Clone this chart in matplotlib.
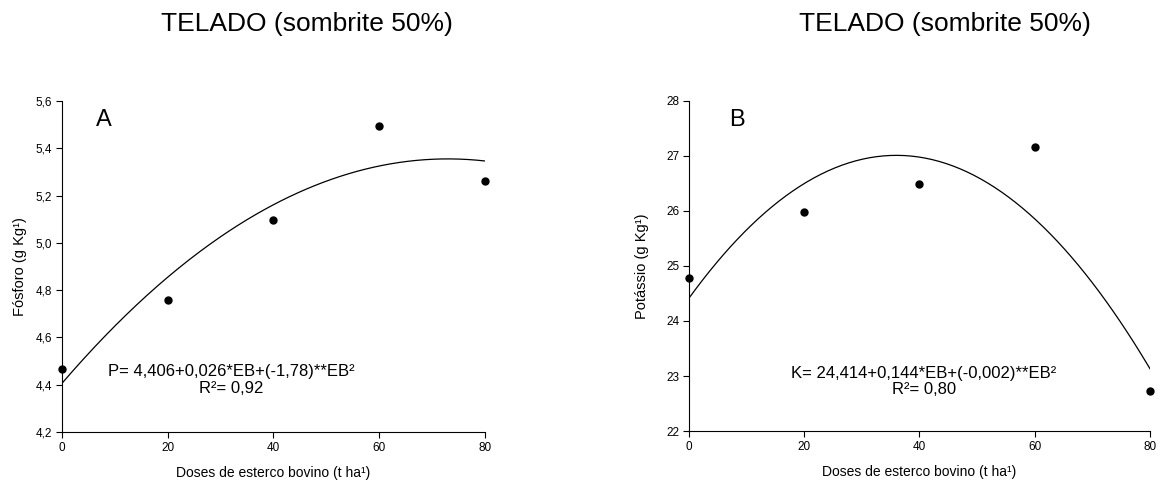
import numpy as np
import matplotlib.pyplot as plt

plt.rcParams['font.family'] = ['Liberation Sans', 'DejaVu Sans']

# data
doses = [0, 20, 40, 60, 80]
fosforo = [4.465, 4.76, 5.095, 5.495, 5.26]
potassio = [24.78, 25.98, 26.48, 27.15, 22.72]

# fitted quadratic coefficients (a, b, c)
fit_p = (4.406, 0.026, -0.000178)
fit_k = (24.414, 0.144, -0.002)

eq_p = "P= 4,406+0,026*EB+(-1,78)**EB²\nR²= 0,92"
eq_k = "K= 24,414+0,144*EB+(-0,002)**EB²\nR²= 0,80"

title = "TELADO (sombrite 50%)"
xlabel = "Doses de esterco bovino (t ha¹)"

fig = plt.figure(figsize=(11.58, 4.86), dpi=100)
axA = fig.add_axes([0.0535, 0.111, 0.365, 0.681])
axB = fig.add_axes([0.595, 0.113, 0.398, 0.680])


def draw(ax, y, fit, ylim, yticks, yfmt, ylabel, letter, eq, eqpos, letterpos):
    xs = np.linspace(0, 80, 200)
    ax.plot(xs, fit[0] + fit[1] * xs + fit[2] * xs ** 2, color='k', lw=0.9)
    ax.plot(doses, y, 'o', color='k', ms=5, clip_on=False, zorder=5)
    ax.set_xlim(0, 80)
    ax.set_ylim(*ylim)
    ax.set_xticks(doses)
    ax.set_yticks(yticks)
    ax.set_yticklabels([yfmt(v) for v in yticks])
    ax.tick_params(labelsize=8.5, length=4, width=0.8, direction='out', pad=3)
    for s in ['top', 'right']:
        ax.spines[s].set_visible(False)
    ax.set_xlabel(xlabel, fontsize=10, labelpad=9)
    ax.set_ylabel(ylabel, fontsize=10.5, labelpad=6)
    ax.text(letterpos[0], letterpos[1], letter, transform=ax.transAxes,
            fontsize=17, ha='center', va='center')
    ax.text(eqpos[0], eqpos[1], eq, transform=ax.transAxes, fontsize=12,
            ha='center', va='center', linespacing=1.1)


draw(axA, fosforo, fit_p, (4.2, 5.6), np.arange(4.2, 5.61, 0.2),
     lambda v: f"{v:.1f}".replace('.', ','), "Fósforo (g Kg¹)", "A",
     eq_p, (0.40, 0.157), (0.098, 0.943))
draw(axB, potassio, fit_k, (22, 28), range(22, 29),
     lambda v: str(v), "Potássio (g Kg¹)", "B",
     eq_k, (0.51, 0.15), (0.103, 0.942))
axB.yaxis.labelpad = 12

fig.text(0.265, 0.95, title, fontsize=19, ha='center', va='center')
fig.text(0.816, 0.95, title, fontsize=19, ha='center', va='center')

fig.savefig('out.png', dpi=100)
